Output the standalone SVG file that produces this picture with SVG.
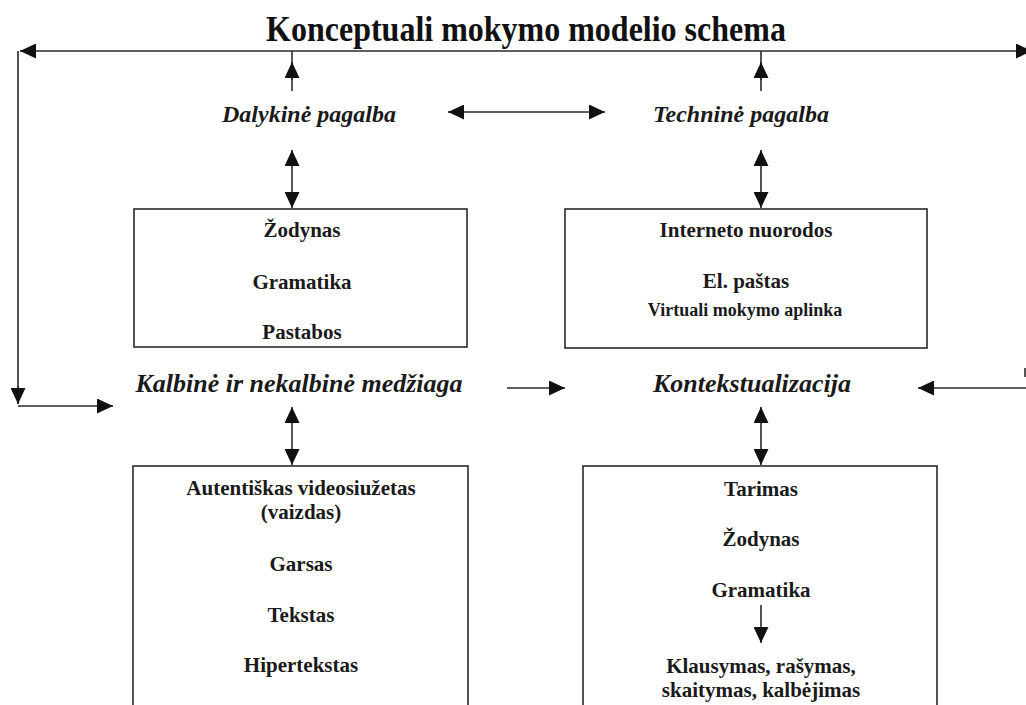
<svg xmlns="http://www.w3.org/2000/svg" width="1026" height="705" viewBox="0 0 1026 705">
  <style>
    .title { font-family: "Liberation Serif", "Times New Roman", serif; font-weight: bold; font-size: 32px; fill: #111; }
    .label { font-family: "Liberation Serif", "Times New Roman", serif; font-weight: bold; font-style: italic; fill: #1a1a1a; text-anchor: middle; }
    .item { font-family: "Liberation Serif", "Times New Roman", serif; font-weight: bold; font-size: 21px; fill: #1a1a1a; text-anchor: middle; }
    .small { font-size: 18px; }
    .box { fill: none; stroke: #2a2a2a; stroke-width: 1.6; }
    .line { fill: none; stroke: #2a2a2a; stroke-width: 1.6; }
  </style>
  <defs>
    <marker id="head" markerUnits="userSpaceOnUse" markerWidth="17" markerHeight="15" refX="16" refY="7.5" orient="auto-start-reverse" viewBox="0 0 17 15">
      <path d="M0,0 L16,7.5 L0,15 Z" fill="#111"/>
    </marker>
  </defs>
  <rect width="1026" height="705" fill="#ffffff"/>

  <!-- heading -->
  <text class="title" text-anchor="middle" transform="translate(526,41) scale(1,1.15)">Konceptuali mokymo modelio schema</text>

  <!-- connectors -->
  <g id="connectors">
    <!-- outer loop along the top edge -->
    <path class="line" d="M20,51 L1032,51" marker-start="url(#head)" marker-end="url(#head)"/>
    <!-- left side going down to the language material -->
    <path class="line" d="M18,51 L18,404"/>
    <path class="line" d="M18,386 L18,404" marker-end="url(#head)"/>
    <path class="line" d="M18,406 L113,406" marker-end="url(#head)"/>
    <!-- small stub of the right side -->
    <path class="line" d="M1025,368 L1025,377"/>
    <!-- supports feeding the top loop -->
    <path class="line" d="M292,91 L292,51"/>
    <path class="line" d="M292,80 L292,62" marker-end="url(#head)"/>
    <path class="line" d="M761,91 L761,51"/>
    <path class="line" d="M761,80 L761,62" marker-end="url(#head)"/>
    <!-- between the two supports -->
    <path class="line" d="M448,112 L605,112" marker-start="url(#head)" marker-end="url(#head)"/>
    <!-- supports to their boxes -->
    <path class="line" d="M292,150 L292,208" marker-start="url(#head)" marker-end="url(#head)"/>
    <path class="line" d="M761,150 L761,208" marker-start="url(#head)" marker-end="url(#head)"/>
    <!-- material to contextualisation -->
    <path class="line" d="M507,388 L565,388" marker-end="url(#head)"/>
    <path class="line" d="M1026,388 L918,388" marker-end="url(#head)"/>
    <!-- middle labels to lower boxes -->
    <path class="line" d="M292,407 L292,465" marker-start="url(#head)" marker-end="url(#head)"/>
    <path class="line" d="M761,407 L761,465" marker-start="url(#head)" marker-end="url(#head)"/>
  </g>

  <g id="dalykine-pagalba">
    <text class="label" x="309" y="122" font-size="24">Dalykinė pagalba</text>
  </g>

  <g id="technine-pagalba">
    <text class="label" x="741" y="122" font-size="24">Techninė pagalba</text>
  </g>

  <g id="kalbos-priemones">
    <rect class="box" x="134" y="209" width="333" height="138"/>
    <text class="item" x="302" y="237">Žodynas</text>
    <text class="item" x="302" y="289">Gramatika</text>
    <text class="item" x="302" y="339">Pastabos</text>
  </g>

  <g id="technines-priemones">
    <rect class="box" x="565" y="209" width="362" height="139"/>
    <text class="item" x="746" y="237">Interneto nuorodos</text>
    <text class="item" x="746" y="288">El. paštas</text>
    <text class="item small" x="745" y="316">Virtuali mokymo aplinka</text>
  </g>

  <g id="kalbine-medziaga">
    <text class="label" x="299" y="392" font-size="26">Kalbinė ir nekalbinė medžiaga</text>
  </g>

  <g id="kontekstualizacija">
    <text class="label" x="752" y="392" font-size="26">Kontekstualizacija</text>
  </g>

  <g id="medziagos-rusys">
    <rect class="box" x="133" y="466" width="335" height="260"/>
    <text class="item" x="301" y="495">Autentiškas videosiužetas</text>
    <text class="item" x="301" y="519">(vaizdas)</text>
    <text class="item" x="301" y="571">Garsas</text>
    <text class="item" x="301" y="622">Tekstas</text>
    <text class="item" x="301" y="672">Hipertekstas</text>
  </g>

  <g id="kalbos-igudziai">
    <rect class="box" x="583" y="466" width="354" height="260"/>
    <text class="item" x="761" y="496">Tarimas</text>
    <text class="item" x="761" y="546">Žodynas</text>
    <text class="item" x="761" y="597">Gramatika</text>
    <path class="line" d="M761,605 L761,643" marker-end="url(#head)"/>
    <text class="item" x="761" y="673">Klausymas, rašymas,</text>
    <text class="item" x="761" y="697">skaitymas, kalbėjimas</text>
  </g>
</svg>
